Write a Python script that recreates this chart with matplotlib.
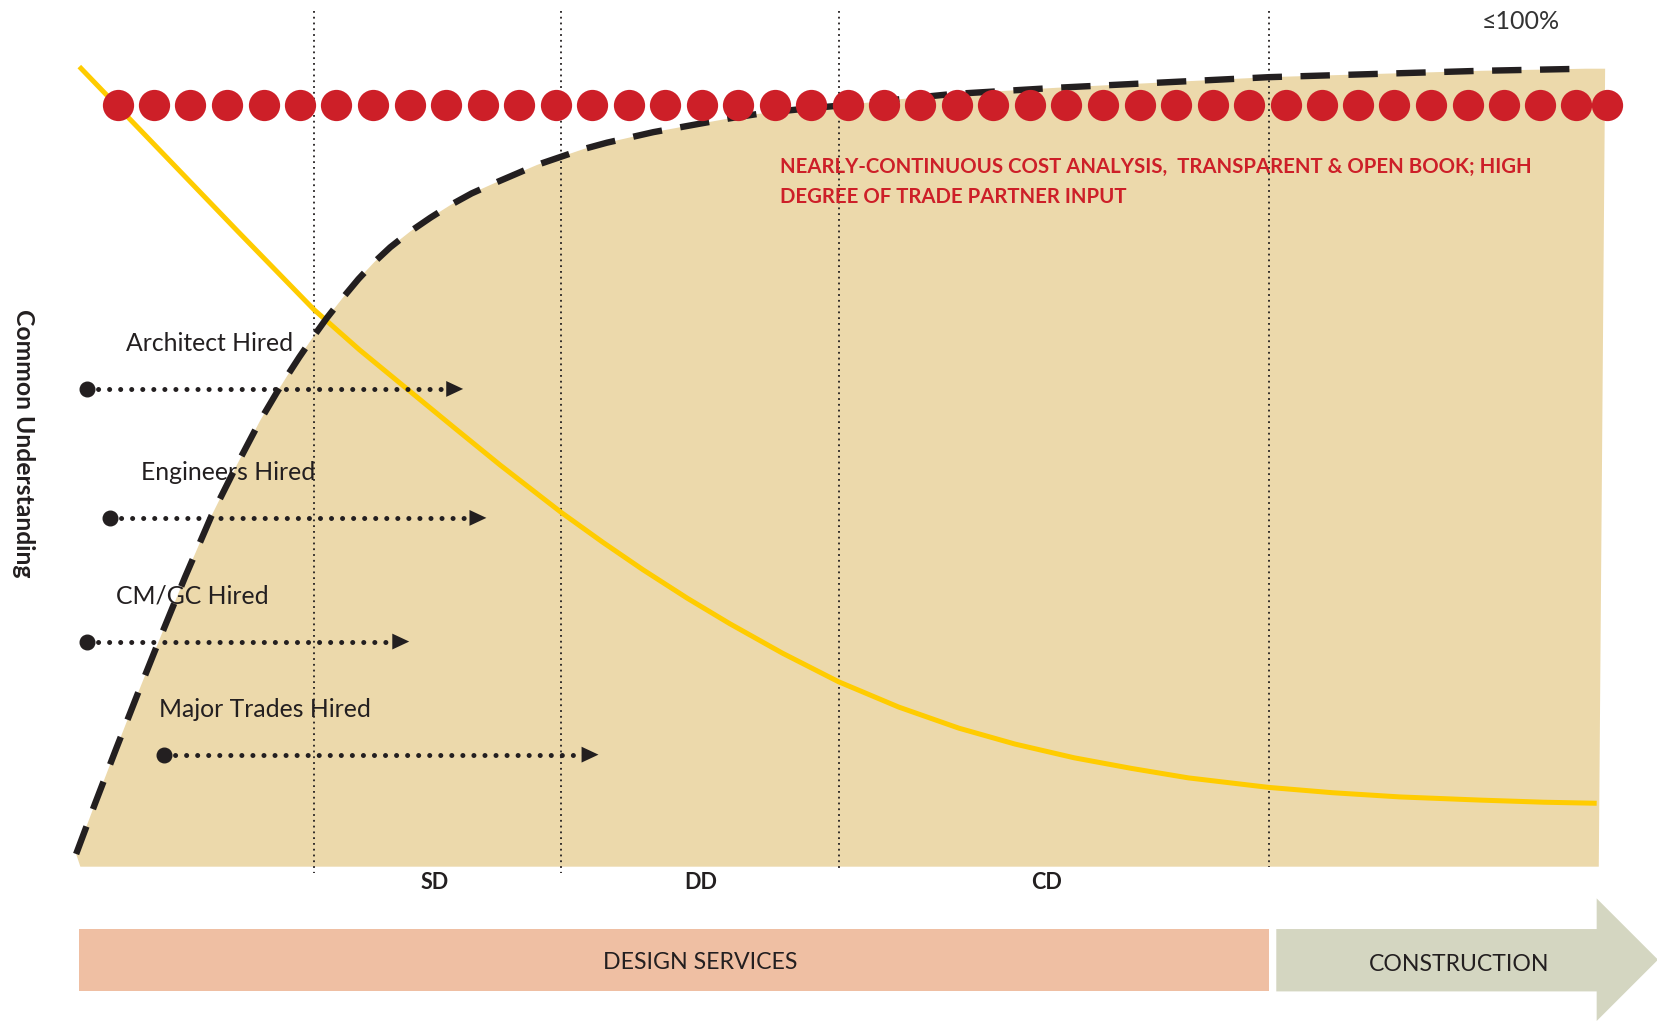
import numpy as np
import matplotlib.pyplot as plt
from matplotlib.patches import Polygon, Rectangle

plt.rcParams['font.family'] = ['Lato', 'DejaVu Sans']

# canvas units: 1568 x 966 (reference drawing frame), y grows downward
W, H = 1568, 966

TAN = "#ECD9AB"
RED = "#CD1F28"
YELLOW = "#FFCC00"
INK = "#231F20"
SALMON = "#EFBFA3"
SAGE = "#D4D6C1"

# common understanding curve (dashed, black)
understand_x = [72, 90, 110, 130, 150, 175, 200, 225, 246, 262, 272, 283, 296, 309, 324, 339,
                354, 369, 388, 407, 426, 446, 466, 487, 508, 530, 552, 574, 596, 618, 640,
                662, 690, 722, 760, 793, 850, 900, 1000, 1100, 1200, 1300, 1400, 1500]
understand_y = [808, 760, 708, 657, 607, 546, 488, 438, 398, 371, 355, 338, 319, 301, 282, 264,
                248, 234, 219, 206, 194, 183, 174, 165, 156, 148.5, 141, 135, 130, 125, 121,
                117, 112, 107, 103, 100, 94, 89, 83, 78, 73, 70, 67, 65]

# cost of change curve (yellow)
cost_x = [75, 150, 225, 297, 340, 385, 430, 473, 531, 570, 608, 650, 690, 740, 793, 850,
          907, 960, 1016, 1070, 1124, 1200, 1260, 1324, 1400, 1460, 1510]
cost_y = [63, 141, 219, 293, 331, 368, 405, 440, 485, 513, 539, 566, 590, 618, 645, 669,
          689, 704, 717, 727, 736, 745, 750, 754, 757, 759, 760]

# continuous cost analysis dots
dot_x = [112, 146, 180, 215, 250, 284, 318, 353, 388, 422, 457, 491, 526, 560, 595, 629,
         664, 698, 733, 767, 802, 836, 870, 905, 939, 974, 1008, 1043, 1078, 1112, 1147,
         1181, 1216, 1250, 1284, 1318, 1353, 1388, 1422, 1456, 1490, 1520]
dot_row = 99

# phase boundaries
phase_x = [297, 531, 793, 1200]
phase_bottom = [826, 826, 822, 820]
phase_names = ["SD", "DD", "CD"]
phase_label_x = [411, 663, 990]

# hiring milestones
hire_labels = ["Architect Hired", "Engineers Hired", "CM/GC Hired", "Major Trades Hired"]
hire_start = [82, 104, 82, 155]
hire_end = [438, 460, 387, 566]
hire_y = [368, 490, 607, 714]
hire_label_x = [119, 133, 110, 150]

fig = plt.figure(figsize=(16.58, 10.21), dpi=100)
ax = fig.add_axes([0, 0, 1, 1])
ax.set_xlim(0, W)
ax.set_ylim(H, 0)
ax.axis("off")

# tan area under the understanding curve
area = list(zip(understand_x, understand_y)) + [(1518, 65), (1512, 820), (76, 820)]
ax.add_patch(Polygon(area, closed=True, facecolor=TAN, edgecolor="none", zorder=1))

# phase lines
for x, yb in zip(phase_x, phase_bottom):
    ax.plot([x, x], [10, yb], color=INK, lw=1.3, linestyle=(0, (1, 2.2)), zorder=2)

ax.plot(cost_x, cost_y, color=YELLOW, lw=3.6, solid_capstyle="butt",
        solid_joinstyle="round", zorder=3)
ax.plot(understand_x, understand_y, color=INK, lw=4.6, linestyle=(0, (4.6, 2.9)),
        dash_capstyle="butt", zorder=4)

ax.plot(dot_x, [dot_row] * len(dot_x), "o", color=RED, markersize=22.5, mec="none", zorder=5)

# hiring arrows
for lab, x0, x1, y, lx in zip(hire_labels, hire_start, hire_end, hire_y, hire_label_x):
    ax.plot([x0, x1 - 14], [y, y], color=INK, lw=3.6, linestyle=(0, (0.01, 2.2)),
            dash_capstyle="round", zorder=6)
    ax.plot([x0], [y], "o", color=INK, markersize=10.5, zorder=6)
    ax.add_patch(Polygon([(x1 - 16, y - 7.5), (x1, y), (x1 - 16, y + 7.5)], closed=True,
                         facecolor=INK, edgecolor="none", zorder=6))
    ax.text(lx, y - 43, lab, fontsize=17.8, color=INK, ha="left", va="center", zorder=7)

ax.text(1438, 20, "≤100%", fontsize=18, color="#333333", ha="center", va="center")
ax.text(738, 158, "NEARLY-CONTINUOUS COST ANALYSIS,  TRANSPARENT & OPEN BOOK; HIGH",
        fontsize=14.7, color=RED, fontweight="bold", ha="left", va="center", zorder=7)
ax.text(738, 186, "DEGREE OF TRADE PARTNER INPUT",
        fontsize=14.7, color=RED, fontweight="bold", ha="left", va="center", zorder=7)

ax.text(22, 419, "Common Understanding", fontsize=17.8, color=INK, fontweight="bold",
        rotation=-90, ha="center", va="center")

for name, x in zip(phase_names, phase_label_x):
    ax.text(x, 835, name, fontsize=15.5, fontweight="bold", color=INK, ha="center", va="center")

# bottom timeline
ax.add_patch(Rectangle((75, 879), 1125, 59, facecolor=SALMON, edgecolor="none"))
ax.text(662, 911, "DESIGN SERVICES", fontsize=16.7, color=INK, ha="center", va="center")
ax.add_patch(Polygon([(1207, 879), (1510, 879), (1510, 850), (1568, 908), (1510, 966),
                      (1510, 938), (1207, 938)], closed=True, facecolor=SAGE, edgecolor="none"))
ax.text(1380, 913, "CONSTRUCTION", fontsize=16.6, color=INK, ha="center", va="center")

fig.savefig("out.png", dpi=100)
